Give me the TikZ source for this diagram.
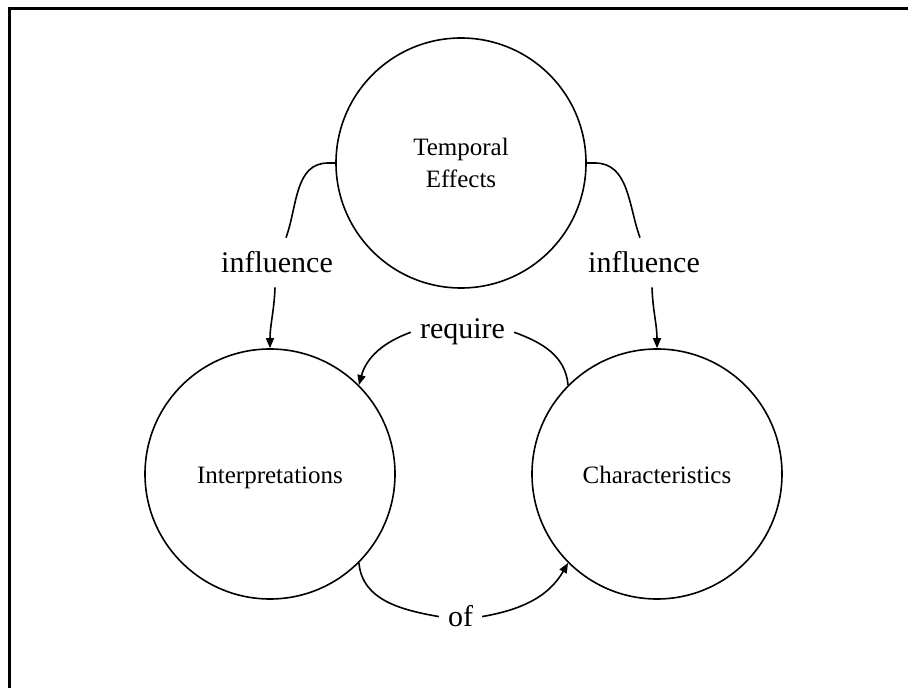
\documentclass[tikz,border=0pt]{standalone}
\usepackage{fontspec}
\setmainfont{Liberation Serif}
\usetikzlibrary{arrows.meta}
\begin{document}
\begin{tikzpicture}[x=1pt,y=1pt,
  bubble/.style={circle,draw,line width=1.6pt,minimum size=250pt,inner sep=0pt,
    font=\fontsize{25}{32}\selectfont,align=center},
  lab/.style={anchor=base,inner xsep=9pt,inner ysep=14pt,font=\fontsize{30}{36}\selectfont},
  link/.style={line width=1.6pt},
  arr/.style={link,-{Triangle[length=10pt,width=8pt]}}]
\useasboundingbox (0,0) rectangle (908,688);
\draw[line width=3pt] (9.5,0) -- (9.5,679.5) -- (908,679.5);
% circles
\node[bubble,text depth=-14pt] (T) at (461,525) {Temporal\\Effects};
\node[bubble,text height=20pt,text depth=0pt] (I) at (270,214) {Interpretations};
\node[bubble,text height=20pt,text depth=0pt] (C) at (657,214) {Characteristics};
% labels
\node[lab] (inf1) at (277,415) {influence};
\node[lab] (inf2) at (644,415) {influence};
\node[lab] (req) at (462.5,349) {require};
\node[lab] (of) at (460.5,61) {of};
% connectors
\draw[link] (T.west) -- ++(-7,0) to[out=180,in=70] ([xshift=9pt]inf1.north);
\draw[arr] ([xshift=-2pt]inf1.south) to[out=-92,in=90] (I.north);
\draw[link] (T.east) -- ++(8,0) to[out=0,in=110] ([xshift=-4pt]inf2.north);
\draw[arr] ([xshift=8pt]inf2.south) to[out=-88,in=90] (C.north);
\draw[link] (C.135) to[out=95,in=-20] (req.east);
\draw[arr] (req.west) to[out=200,in=75] (I.45);
\draw[link] (I.-45) to[out=-85,in=170] (of.west);
\draw[arr] (of.east) to[out=10,in=-120] (C.225);
\end{tikzpicture}
\end{document}
